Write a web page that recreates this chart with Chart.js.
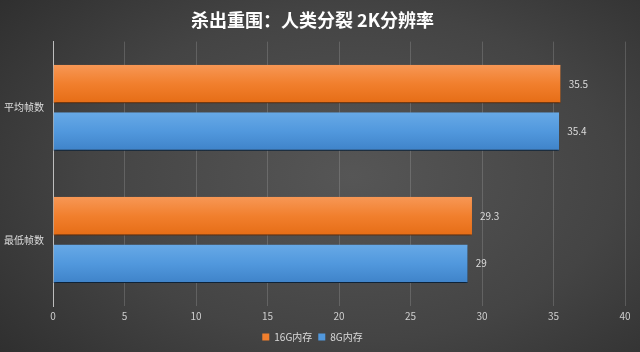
<!DOCTYPE html>
<html>
<head>
<meta charset="utf-8">
<script src="https://cdn.jsdelivr.net/npm/chart.js"></script>
<style>
html, body { margin: 0; padding: 0; }
body {
    width: 640px; height: 352px; overflow: hidden;
    background: radial-gradient(ellipse 75% 85% at 55% 50%, #565656 0%, #444 55%, #2c2c2c 100%);
}
#wrap { width: 640px; height: 352px; position: relative; }
</style>
</head>
<body>
<div id="wrap"><canvas id="visualization"></canvas></div>
<script>
const titleText = '杀出重围：人类分裂 2K分辨率';
const categories = ['平均帧数', '最低帧数'];
const series16G = [35.5, 29.3];
const series8G = [35.4, 29];
const seriesNames = ['16G内存', '8G内存'];

function barGradient(ctx, top, bottom, mid) {
    const chart = ctx.chart;
    const y = chart.scales.y;
    if (!y || !chart.chartArea) return mid;
    const cat = (y.bottom - y.top) / categories.length;
    const slot = cat * 0.72 / 2;
    const center = y.getPixelForValue(ctx.dataIndex) + (ctx.datasetIndex === 0 ? -slot / 2 : slot / 2);
    const h = slot * 0.8;
    const g = chart.ctx.createLinearGradient(0, center - h / 2, 0, center + h / 2);
    g.addColorStop(0, top);
    g.addColorStop(0.5, mid);
    g.addColorStop(1, bottom);
    return g;
}

const valueLabels = {
    id: 'valueLabels',
    beforeDatasetDraw(chart) {
        const c = chart.ctx;
        c.save();
        c.shadowColor = 'rgba(0,0,0,0.7)';
        c.shadowBlur = 3;
        c.shadowOffsetY = 2;
    },
    afterDatasetDraw(chart) {
        chart.ctx.restore();
    },
    afterDatasetsDraw(chart) {
        const c = chart.ctx;
        c.save();
        c.font = '10px "Noto Sans CJK SC", sans-serif';
        c.fillStyle = '#dcdcdc';
        c.textBaseline = 'middle';
        chart.data.datasets.forEach((ds, i) => {
            chart.getDatasetMeta(i).data.forEach((bar, j) => {
                c.fillText(String(ds.data[j]), bar.x + 8, bar.y);
            });
        });
        c.restore();
    }
};

new Chart(document.getElementById('visualization'), {
    type: 'bar',
    data: {
        labels: categories,
        datasets: [
            {
                label: seriesNames[0],
                data: series16G,
                backgroundColor: ctx => barGradient(ctx, '#f79755', '#e66d16', '#f17f2d'),
                borderColor: '#b85510',
                borderWidth: { bottom: 1 },
                barPercentage: 0.81,
                categoryPercentage: 0.72,
            },
            {
                label: seriesNames[1],
                data: series8G,
                backgroundColor: ctx => barGradient(ctx, '#67a9e6', '#3f83c9', '#5198dd'),
                borderColor: '#1f4f80',
                borderWidth: { bottom: 1 },
                barPercentage: 0.81,
                categoryPercentage: 0.72,
            },
        ]
    },
    options: {
        indexAxis: 'y',
        responsive: true,
        maintainAspectRatio: false,
        animation: false,
        layout: { padding: { left: 0, right: 15, top: 6, bottom: 0 } },
        scales: {
            x: {
                min: 0, max: 40,
                ticks: { stepSize: 5, color: '#cfcfcf', font: { size: 10, family: '"Noto Sans CJK SC", sans-serif' }, padding: 4 },
                grid: { color: 'rgba(200,200,200,0.22)', drawTicks: false, lineWidth: 1 },
                border: { display: false },
                afterFit(scale) { scale.height = 20; }
            },
            y: {
                ticks: { color: '#dedede', font: { size: 10, family: '"Noto Sans CJK SC", sans-serif' }, padding: 9 },
                grid: { display: false, drawTicks: false },
                border: { display: true, color: '#bdbdbd', width: 1 },
                afterFit(scale) { scale.width = 53; }
            }
        },
        plugins: {
            title: {
                display: true,
                text: titleText,
                color: '#ffffff',
                font: { size: 18, weight: 'bold', family: '"Noto Sans CJK SC", sans-serif' },
                padding: { top: 3, bottom: 11 }
            },
            legend: {
                position: 'bottom',
                labels: {
                    color: '#d8d8d8',
                    boxWidth: 7, boxHeight: 7,
                    padding: 6,
                    font: { size: 10, family: '"Noto Sans CJK SC", sans-serif' },
                    generateLabels(chart) {
                        const fills = ['#f17f2d', '#5198dd'];
                        return chart.data.datasets.map((ds, i) => ({
                            text: ds.label, fillStyle: fills[i], strokeStyle: fills[i], lineWidth: 0,
                            fontColor: '#d8d8d8', datasetIndex: i, hidden: false
                        }));
                    }
                }
            },
            tooltip: { enabled: false }
        }
    },
    plugins: [valueLabels]
});
</script>
</body>
</html>
